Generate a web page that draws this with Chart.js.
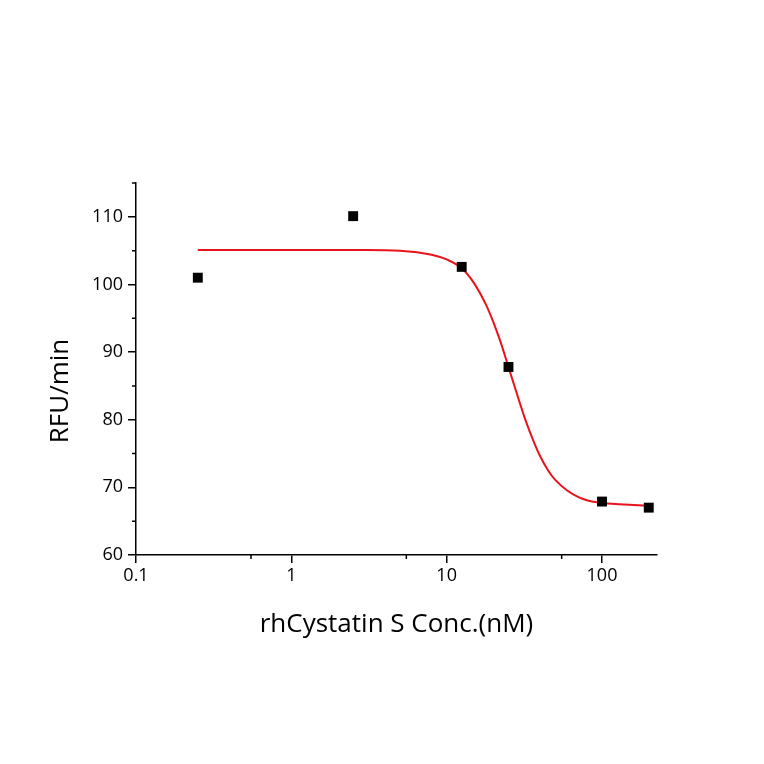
<!DOCTYPE html>
<html lang="en">
<head>
    <meta charset="UTF-8">
    <title>rhCystatin S inhibition</title>
    <script src="https://cdn.jsdelivr.net/npm/chart.js"></script>
    <style>
        body {
            margin: 0;
            background: #fff;
        }
        .chart-container {
            width: 764px;
            height: 764px;
        }
    </style>
</head>
<body>
    <div class="chart-container">
        <canvas id="ic50Chart" width="764" height="764"></canvas>
    </div>

    <script>
        // measured points
        const concNM = [0.25, 2.5, 12.5, 25, 100, 200];
        const rfuPerMin = [101.0, 110.1, 102.6, 87.8, 67.9, 67.0];

        // fitted curve
        const fitConc = [0.25, 1, 3, 5, 8, 10, 12.5, 15, 18, 20, 22, 25, 28, 32, 36, 40, 45, 50, 60, 70, 80, 100, 130, 160, 200];
        const fitRfu = [105.1, 105.1, 105.1, 105.0, 104.4, 103.7, 102.4, 100.2, 96.9, 94.4, 91.8, 87.8, 84.2, 80.1, 77.0, 74.6, 72.5, 71.1, 69.5, 68.6, 68.1, 67.7, 67.5, 67.4, 67.3];

        // axis ticks
        const xTicks = [0.1, 1, 10, 100];
        const xMinor = [0.55, 5.5, 55];
        const yTicks = [60, 70, 80, 90, 100, 110];
        const yMinor = [65, 75, 85, 95, 105, 115];

        const font = "'Open Sans', 'Noto Sans', sans-serif";
        const yTitle = 'RFU/min';

        // short minor tick marks outside the axes + the y axis title
        const extras = {
            id: 'extras',
            afterDraw(chart) {
                const ctx = chart.ctx;
                const x = chart.scales.x;
                const y = chart.scales.y;
                ctx.save();
                ctx.strokeStyle = '#000';
                ctx.lineWidth = 1.5;
                ctx.beginPath();
                xMinor.forEach(v => {
                    const px = x.getPixelForValue(v);
                    ctx.moveTo(px, y.bottom);
                    ctx.lineTo(px, y.bottom + 4);
                });
                yMinor.forEach(v => {
                    const py = y.getPixelForValue(v);
                    ctx.moveTo(x.left, py);
                    ctx.lineTo(x.left - 4, py);
                });
                ctx.stroke();

                ctx.translate(61, 391);
                ctx.rotate(-Math.PI / 2);
                ctx.fillStyle = '#000';
                ctx.font = '26px ' + font;
                ctx.textAlign = 'center';
                ctx.textBaseline = 'middle';
                ctx.fillText(yTitle, 0, 0);
                ctx.restore();
            }
        };

        new Chart(document.getElementById('ic50Chart'), {
            type: 'scatter',
            data: {
                datasets: [{
                    label: 'data',
                    data: concNM.map((c, i) => ({ x: c, y: rfuPerMin[i] })),
                    pointStyle: 'rect',
                    pointRadius: 7,
                    backgroundColor: '#000',
                    borderColor: '#000',
                    borderWidth: 0
                }, {
                    label: 'fit',
                    data: fitConc.map((c, i) => ({ x: c, y: fitRfu[i] })),
                    showLine: true,
                    pointRadius: 0,
                    borderColor: '#e8141b',
                    borderWidth: 2,
                    cubicInterpolationMode: 'monotone'
                }]
            },
            options: {
                responsive: false,
                animation: false,
                layout: {
                    padding: { left: 0, top: 183, right: 107, bottom: 120 }
                },
                plugins: {
                    legend: { display: false },
                    tooltip: { enabled: false }
                },
                scales: {
                    x: {
                        type: 'logarithmic',
                        min: 0.1,
                        max: 226,
                        afterBuildTicks: s => { s.ticks = xTicks.map(v => ({ value: v })); },
                        afterFit: s => { s.height = 89; },
                        border: { color: '#000', width: 1.5 },
                        grid: { drawOnChartArea: false, tickLength: 8, color: '#000', lineWidth: 1.5 },
                        ticks: {
                            color: '#000',
                            font: { family: font, size: 18 },
                            padding: 2,
                            maxRotation: 0,
                            callback: v => String(v)
                        },
                        title: {
                            display: true,
                            text: 'rhCystatin S Conc.(nM)',
                            color: '#000',
                            font: { family: font, size: 26 }
                        }
                    },
                    y: {
                        min: 60,
                        max: 115,
                        afterBuildTicks: s => { s.ticks = yTicks.map(v => ({ value: v })); },
                        afterFit: s => { s.width = 136; },
                        border: { color: '#000', width: 1.5 },
                        grid: { drawOnChartArea: false, tickLength: 8, color: '#000', lineWidth: 1.5 },
                        ticks: {
                            color: '#000',
                            font: { family: font, size: 18 },
                            padding: 5
                        }
                    }
                }
            },
            plugins: [extras]
        });
    </script>
</body>
</html>
